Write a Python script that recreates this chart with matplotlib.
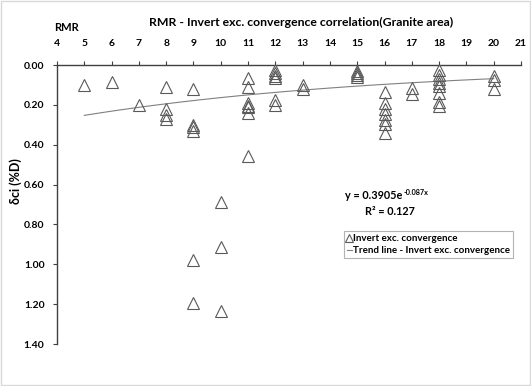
import numpy as np
import matplotlib
matplotlib.use("Agg")
import matplotlib.pyplot as plt
from matplotlib.patches import Rectangle

plt.rcParams['font.family'] = ['Lato', 'DejaVu Sans']

# Data: RMR vs invert exc. convergence (δci, %D)
rmr = [5, 6, 7,
       8, 8, 8, 8,
       9, 9, 9, 9, 9, 9,
       10, 10, 10,
       11, 11, 11, 11, 11, 11, 11,
       12, 12, 12, 12, 12, 12,
       13, 13,
       15, 15, 15, 15,
       16, 16, 16, 16, 16, 16, 16,
       17, 17,
       18, 18, 18, 18, 18, 18, 18, 18,
       20, 20, 20]
dci = [0.10, 0.085, 0.20,
       0.11, 0.22, 0.25, 0.27,
       0.12, 0.30, 0.31, 0.33, 0.98, 1.195,
       0.685, 0.915, 1.235,
       0.067, 0.112, 0.19, 0.205, 0.21, 0.24, 0.456,
       0.025, 0.04, 0.055, 0.067, 0.175, 0.20,
       0.10, 0.12,
       0.03, 0.04, 0.05, 0.06,
       0.137, 0.19, 0.22, 0.245, 0.276, 0.296, 0.34,
       0.117, 0.147,
       0.025, 0.05, 0.07, 0.09, 0.105, 0.14, 0.185, 0.205,
       0.055, 0.075, 0.12]

trend_a = 0.3905
trend_b = -0.087
trend_x = [5, 20]

x_ticks = list(range(4, 22))
y_ticks = [0.0, 0.2, 0.4, 0.6, 0.8, 1.0, 1.2, 1.4]

fig = plt.figure(figsize=(5.31, 3.86), dpi=100)
fig.patches.append(Rectangle((0.002, 0.002), 0.996, 0.996, transform=fig.transFigure,
                             fill=False, edgecolor='#d9d9d9', linewidth=1))
ax = fig.add_axes([0.1073, 0.1088, 0.874, 0.7228])

xs = np.linspace(trend_x[0], trend_x[1], 100)
ax.plot(xs, trend_a * np.exp(trend_b * xs), color='#808080', linewidth=0.8,
        label='Trend line - Invert exc. convergence', zorder=2)
ax.plot(rmr, dci, linestyle='none', marker='^', markersize=8, markerfacecolor='none',
        markeredgecolor='#595959', markeredgewidth=0.8, label='Invert exc. convergence', zorder=3)

ax.set_xlim(4, 21)
ax.set_ylim(1.4, 0.0)
ax.xaxis.tick_top()
ax.set_xticks(x_ticks)
ax.set_yticks(y_ticks)
ax.set_yticklabels([f"{v:.2f}" for v in y_ticks])
for sp in ['right', 'bottom']:
    ax.spines[sp].set_visible(False)
for sp in ['left', 'top']:
    ax.spines[sp].set_color('#404040')
    ax.spines[sp].set_linewidth(1.0)
ax.tick_params(axis='both', which='both', labelsize=7.5, colors='#404040',
               labelcolor='black', length=3, width=0.8)
ax.tick_params(axis='x', pad=9)
ax.tick_params(axis='y', pad=6)
for lab in ax.get_xticklabels() + ax.get_yticklabels():
    lab.set_fontweight('bold')

fig.text(0.03, 0.53, 'δci (%D)', rotation=90, ha='center', va='center',
         fontsize=9, fontweight='bold')
fig.text(0.567, 0.943, 'RMR - Invert exc. convergence correlation(Granite area)',
         ha='center', va='center', fontsize=8.8, fontweight='bold')
fig.text(0.126, 0.93, 'RMR', ha='center', va='center', fontsize=8, fontweight='bold')

eq = fig.text(0.65, 0.494, 'y = 0.3905e', ha='left', va='center',
              fontsize=7.8, fontweight='bold')
fig.texts[-1].axes = None
ax.annotate('-0.087x', xy=(1.0, 0.75), xycoords=eq, xytext=(0.5, 0),
            textcoords='offset points', ha='left', va='center',
            fontsize=5.2, fontweight='bold', annotation_clip=False)
fig.text(0.688, 0.451, 'R² = 0.127', ha='left', va='center',
         fontsize=7.8, fontweight='bold')

handles, labels = ax.get_legend_handles_labels()
leg = ax.legend(handles[::-1], labels[::-1], loc='upper left',
                bbox_to_anchor=(0.638, 0.413), bbox_transform=fig.transFigure,
                fontsize=7, frameon=True, fancybox=False, handlelength=0.6,
                handletextpad=0.1, borderpad=0.3, labelspacing=0.3, markerscale=0.8)
leg.get_frame().set_edgecolor('#a0a0a0')
leg.get_frame().set_linewidth(0.8)
for t in leg.get_texts():
    t.set_fontweight('bold')

fig.savefig('out.png', dpi=100)
